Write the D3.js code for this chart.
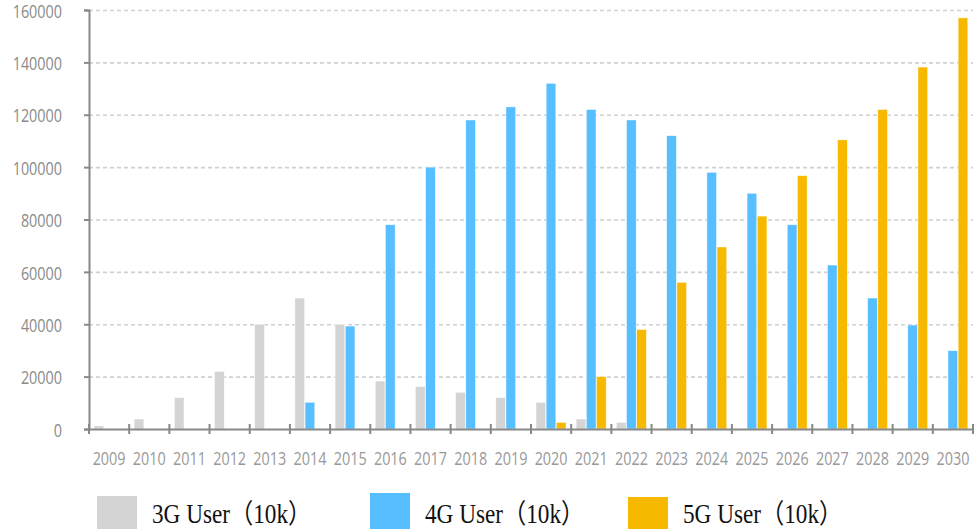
<!DOCTYPE html>
<html>
<head>
<meta charset="utf-8">
<script src="https://cdn.jsdelivr.net/npm/d3@7"></script>
<style>
  body { margin: 0; background: #fff; }
  svg { display: block; }
</style>
</head>
<body>
<div id="chart"></div>
<script>
// data (units: 10k users)
const years = ["2009", "2010", "2011", "2012", "2013", "2014", "2015", "2016", "2017", "2018", "2019",
  "2020", "2021", "2022", "2023", "2024", "2025", "2026", "2027", "2028", "2029", "2030"]
const users3G = [1200, 3800, 12000, 22000, 40000, 50000, 40000, 18300, 16200, 14000, 12000,
  10200, 3800, 2500, 0, 0, 0, 0, 0, 0, 0, 0]
const users4G = [0, 0, 0, 0, 0, 10200, 39300, 78000, 100000, 118000, 123000,
  132000, 122000, 118000, 112000, 98000, 90000, 78000, 62600, 50000, 39700, 29900]
const users5G = [0, 0, 0, 0, 0, 0, 0, 0, 0, 0, 0,
  2500, 20000, 38000, 56000, 69500, 81300, 96700, 110400, 122000, 138200, 157000]
const yTicks = [0, 20000, 40000, 60000, 80000, 100000, 120000, 140000, 160000]
const seriesNames = ["3G User（10k）", "4G User（10k）", "5G User（10k）"]
const seriesKeys = ["g3", "g4", "g5"]

const W = 974, H = 529
const LEFT = 89, RIGHT = 973, TOP = 10, BOTTOM = 429

const color = d3.scaleOrdinal().domain(seriesKeys).range(["#d4d4d4", "#57bfff", "#f7b900"])

const svg = d3.select("#chart").append("svg")
  .attr("width", W)
  .attr("height", H)

const x0 = d3.scaleBand().domain(years).range([LEFT, RIGHT]).padding(0)
const x1 = d3.scaleBand().domain(seriesKeys).range([5, 35]).paddingInner(0.05)
const y = d3.scaleLinear().domain([0, 160000]).range([BOTTOM, TOP])

// dashed grid lines
const grid = svg.append("g")
  .attr("transform", `translate(${LEFT},0)`)
  .call(d3.axisRight(y).tickValues(yTicks.slice(1)).tickSize(RIGHT - LEFT).tickFormat(""))
grid.select(".domain").remove()
grid.selectAll("line")
  .attr("stroke", "#d0d0d0")
  .attr("stroke-width", 1.6)
  .attr("stroke-dasharray", "4,3")

// bars
const rows = years.map((yr, i) => ({ year: yr, g3: users3G[i], g4: users4G[i], g5: users5G[i] }))

const groups = svg.append("g").selectAll("g")
  .data(rows)
  .enter().append("g")
    .attr("transform", d => `translate(${x0(d.year)},0)`)

groups.selectAll("rect")
  .data(d => seriesKeys.map(k => ({ key: k, value: d[k] })).filter(e => e.value > 0))
  .enter().append("rect")
    .attr("x", d => x1(d.key))
    .attr("width", x1.bandwidth())
    .attr("y", d => y(d.value))
    .attr("height", d => y(0) - y(d.value))
    .attr("fill", d => color(d.key))
    .attr("stroke", "#fff")
    .attr("stroke-width", 0.6)
    .attr("stroke-opacity", 0.7)

// y axis
const yAxis = svg.append("g")
  .attr("transform", `translate(${LEFT},0)`)
  .call(d3.axisLeft(y).tickValues(yTicks).tickSize(5).tickFormat(d3.format("d")))
yAxis.select(".domain")
  .attr("stroke", "#888")
  .attr("stroke-width", 2)
yAxis.selectAll(".tick line")
  .attr("stroke", "#888")
  .attr("stroke-width", 2)
yAxis.selectAll(".tick text")
  .attr("x", 0)
  .attr("dy", "0.34em")
  .attr("transform", "translate(-27,1) scale(0.8,1)")
  .attr("fill", "#8a8a8a")
  .style("font-family", "'Open Sans', sans-serif")
  .style("font-size", "18px")

// x axis
const xAxis = svg.append("g")
  .attr("transform", `translate(0,${BOTTOM})`)
  .call(d3.axisBottom(x0).tickSize(0).tickPadding(0))
xAxis.select(".domain")
  .attr("stroke", "#888")
  .attr("stroke-width", 2)
xAxis.selectAll(".tick text")
  .attr("y", 36)
  .attr("dy", 0)
  .attr("transform", "scale(0.8,1)")
  .attr("fill", "#999")
  .style("font-family", "'Open Sans', sans-serif")
  .style("font-size", "18px")

const bounds = years.map(d => x0(d)).concat([x0.range()[1]])
xAxis.selectAll(".bound")
  .data(bounds)
  .enter().append("line")
    .attr("class", "bound")
    .attr("x1", d => d)
    .attr("x2", d => d)
    .attr("y1", -5)
    .attr("y2", 5)
    .attr("stroke", "#888")
    .attr("stroke-width", 2)

// legend
const legendX = [97, 370, 628]
const legend = svg.append("g")
const legendItem = legend.selectAll(".legendItem")
  .data(seriesKeys)
  .enter().append("g")
    .attr("class", "legendItem")
    .attr("transform", (d, i) => `translate(${legendX[i]},0)`)

legendItem.append("rect")
  .attr("y", (d, i) => [496, 493, 497][i])
  .attr("width", 40)
  .attr("height", 40)
  .attr("fill", d => color(d))

legendItem.append("text")
  .attr("transform", "translate(55,523) scale(0.86,1)")
  .attr("fill", "#111")
  .style("font-family", "'Liberation Serif', 'Noto Sans CJK SC', serif")
  .style("font-size", "27px")
  .text((d, i) => seriesNames[i])
</script>
</body>
</html>
